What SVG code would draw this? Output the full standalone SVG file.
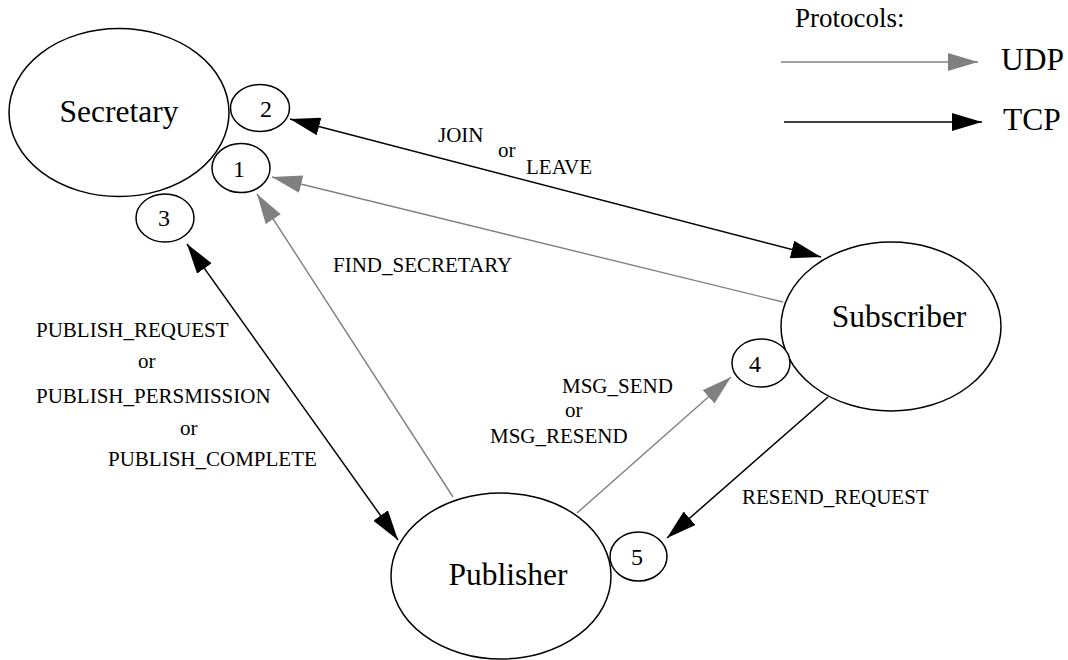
<svg xmlns="http://www.w3.org/2000/svg" width="1068" height="660" viewBox="0 0 1068 660">
<style>
text{font-family:"Liberation Serif","Times New Roman",serif;fill:#000}
.big{font-size:31.5px}
.num{font-size:24px}
.lbl{font-size:21px}
.node{fill:#fff;stroke:#000;stroke-width:1.5}
.tcp{stroke:#000;stroke-width:1.5;fill:none}
.udp{stroke:#808080;stroke-width:1.4;fill:none}
</style>
<defs>
<marker id="ab" markerUnits="userSpaceOnUse" markerWidth="30" markerHeight="18" refX="30" refY="9" orient="auto-start-reverse" viewBox="0 0 30 18"><path d="M0,0 L30,9 L0,18 z" fill="#000"/></marker>
<marker id="ag" markerUnits="userSpaceOnUse" markerWidth="30" markerHeight="18" refX="30" refY="9" orient="auto-start-reverse" viewBox="0 0 30 18"><path d="M0,0 L30,9 L0,18 z" fill="#808080"/></marker>
</defs>
<rect width="1068" height="660" fill="#fff"/>
<g id="connectors">
<line class="tcp" x1="290" y1="119" x2="821" y2="257" marker-start="url(#ab)" marker-end="url(#ab)"/>
<line class="udp" x1="783" y1="302" x2="272" y2="177" marker-end="url(#ag)"/>
<line class="udp" x1="453" y1="497" x2="257" y2="194" marker-end="url(#ag)"/>
<line class="tcp" x1="187" y1="244" x2="398" y2="540" marker-start="url(#ab)" marker-end="url(#ab)"/>
<line class="udp" x1="577" y1="513" x2="731" y2="377" marker-end="url(#ag)"/>
<line class="tcp" x1="828" y1="397" x2="667" y2="538" marker-end="url(#ab)"/>
</g>
<g id="secretary"><ellipse class="node" cx="119" cy="112.5" rx="110" ry="84"/><text class="big" x="119" y="122" text-anchor="middle">Secretary</text></g>
<g id="subscriber"><ellipse class="node" cx="891" cy="326.5" rx="110" ry="84.5"/><text class="big" x="899" y="327" text-anchor="middle">Subscriber</text></g>
<g id="publisher"><ellipse class="node" cx="501" cy="576" rx="110" ry="83"/><text class="big" x="508" y="585" text-anchor="middle">Publisher</text></g>
<g id="port1"><ellipse class="node" cx="241" cy="168" rx="29" ry="24.5"/><text class="num" x="239" y="177" text-anchor="middle">1</text></g>
<g id="port2"><ellipse class="node" cx="260" cy="108" rx="29.5" ry="23.5"/><text class="num" x="266" y="117" text-anchor="middle">2</text></g>
<g id="port3"><ellipse class="node" cx="165" cy="218" rx="29" ry="24"/><text class="num" x="164" y="226" text-anchor="middle">3</text></g>
<g id="port4"><ellipse class="node" cx="761" cy="363" rx="29" ry="24"/><text class="num" x="755" y="372" text-anchor="middle">4</text></g>
<g id="port5"><ellipse class="node" cx="638.5" cy="556.5" rx="28.5" ry="24.5"/><text class="num" x="637" y="565" text-anchor="middle">5</text></g>
<g id="labels">
<text class="lbl" x="438" y="142">JOIN</text>
<text class="lbl" x="498" y="157">or</text>
<text class="lbl" x="526" y="174">LEAVE</text>
<text class="lbl" x="333" y="272">FIND_SECRETARY</text>
<text class="lbl" x="36" y="337">PUBLISH_REQUEST</text>
<text class="lbl" x="138" y="368">or</text>
<text class="lbl" x="36" y="403">PUBLISH_PERSMISSION</text>
<text class="lbl" x="180" y="435">or</text>
<text class="lbl" x="108" y="466">PUBLISH_COMPLETE</text>
<text class="lbl" x="562" y="393">MSG_SEND</text>
<text class="lbl" x="565" y="417">or</text>
<text class="lbl" x="490" y="443">MSG_RESEND</text>
<text class="lbl" x="742" y="504">RESEND_REQUEST</text>
</g>
<g id="legend">
<text x="795" y="27" style="font-size:27px">Protocols:</text>
<line class="udp" x1="781" y1="62" x2="978" y2="62" marker-end="url(#ag)"/>
<text class="big" x="1001" y="70">UDP</text>
<line class="tcp" x1="784" y1="122" x2="982" y2="122" marker-end="url(#ab)"/>
<text class="big" x="1003" y="130">TCP</text>
</g>
</svg>
